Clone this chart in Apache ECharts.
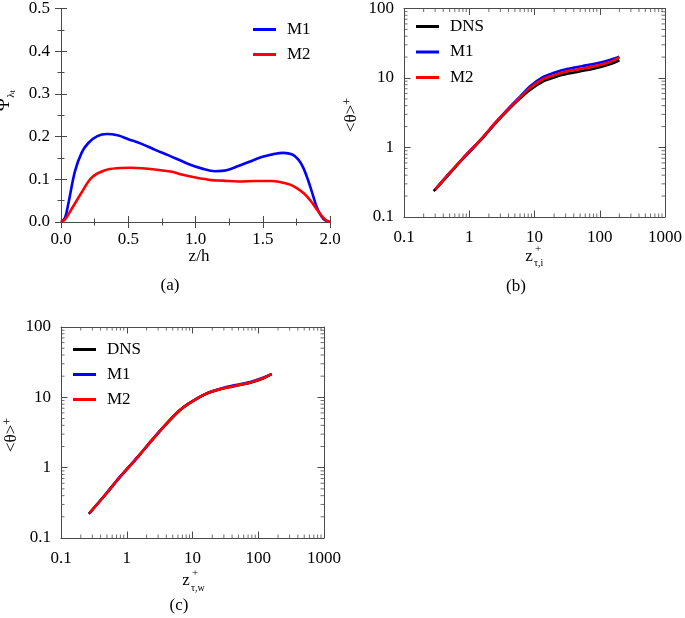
<!DOCTYPE html>
<html>
<head>
<meta charset="utf-8">
<script src="https://cdn.jsdelivr.net/npm/echarts@6/dist/echarts.min.js"></script>
<style>
html,body{margin:0;padding:0;background:#fff;}
#chart{width:685px;height:618px;}
</style>
</head>
<body>
<div id="chart"></div>
<script>
// ---------- Panel (a) data ----------
const aZ_M1 = [0, 0.03, 0.054, 0.104, 0.153, 0.203, 0.27, 0.34, 0.42, 0.5, 0.6, 0.7, 0.8, 0.947, 1.05, 1.145, 1.23, 1.318, 1.4, 1.492, 1.58, 1.653, 1.72, 1.765, 1.8, 1.839, 1.87, 1.901, 1.935, 1.963, 2.0];
const aM1 = [0, 0.01, 0.042, 0.119, 0.162, 0.185, 0.201, 0.206, 0.203, 0.194, 0.183, 0.169, 0.156, 0.136, 0.125, 0.119, 0.121, 0.131, 0.141, 0.152, 0.159, 0.162, 0.158, 0.146, 0.128, 0.096, 0.066, 0.035, 0.014, 0.004, 0];
const aZ_M2 = [0, 0.03, 0.08, 0.153, 0.228, 0.327, 0.42, 0.525, 0.6, 0.699, 0.8, 0.848, 0.897, 1.0, 1.12, 1.2, 1.318, 1.45, 1.566, 1.69, 1.75, 1.809, 1.86, 1.908, 1.95, 1.98, 2.0];
const aM2 = [0, 0.006, 0.031, 0.069, 0.104, 0.121, 0.126, 0.127, 0.126, 0.123, 0.119, 0.116, 0.111, 0.104, 0.098, 0.097, 0.095, 0.096, 0.096, 0.089, 0.08, 0.066, 0.048, 0.027, 0.01, 0.002, 0];

// ---------- Panel (b) data ----------
const bZ_DNS = [0.285, 0.5, 0.8, 1.5, 2.6, 4, 5.9, 8.4, 13.4, 20, 27, 40, 55, 80, 110, 150, 200];
const bDNS   = [0.235, 0.42, 0.69, 1.28, 2.3, 3.5, 5.0, 6.7, 8.9, 10.2, 11.1, 12.0, 12.7, 13.6, 14.6, 16.0, 18.0];
const bZ     = [0.3, 0.5, 0.8, 1.5, 2.6, 4, 5.9, 8.4, 13.4, 20, 27, 40, 55, 80, 110, 150, 200];
const bM1    = [0.248, 0.43, 0.7, 1.3, 2.35, 3.65, 5.3, 7.5, 10.3, 11.9, 13.0, 14.1, 14.9, 15.9, 17.0, 18.4, 20.2];
const bM2    = [0.248, 0.43, 0.7, 1.3, 2.35, 3.6, 5.2, 7.1, 9.6, 11.0, 12.0, 13.0, 13.7, 14.7, 15.8, 17.3, 19.8];

// ---------- Panel (c) data ----------
const cZ_DNS = [0.265, 0.5, 0.75, 1.5, 2.4, 4, 6.1, 8.5, 11, 15, 19.7, 28, 40, 57, 80, 115, 160];
const cDNS   = [0.22, 0.44, 0.70, 1.45, 2.45, 4.2, 6.3, 8.0, 9.3, 10.9, 12.0, 13.2, 14.2, 15.2, 16.4, 18.4, 21.4];
const cZ     = [0.27, 0.5, 0.75, 1.5, 2.4, 4, 6.1, 8.5, 11, 15, 19.7, 28, 40, 57, 80, 115, 160];
const cM1    = [0.225, 0.44, 0.70, 1.45, 2.45, 4.2, 6.3, 8.0, 9.3, 10.9, 12.2, 13.5, 14.6, 15.6, 16.8, 18.8, 21.6];
const cM2    = [0.225, 0.44, 0.70, 1.45, 2.45, 4.2, 6.3, 8.0, 9.3, 10.9, 12.1, 13.3, 14.3, 15.3, 16.5, 18.5, 21.5];

// ---------- Tick values ----------
const logMinorX = [0.2,0.3,0.4,0.5,0.6,0.7,0.8,0.9, 2,3,4,5,6,7,8,9, 20,30,40,50,60,70,80,90, 200,300,400,500,600,700,800,900];
const logMinorY = [0.2,0.3,0.4,0.5,0.6,0.7,0.8,0.9, 2,3,4,5,6,7,8,9, 20,30,40,50,60,70,80,90];
const logTickLabels = {'0.1':'0.1','1':'1','10':'10','100':'100','1000':'1000'};

const FONT = 'Liberation Serif';
const AX = '#4a4a4a';

function pairs(xs, ys){ return xs.map((x,i)=>[x, ys[i]]); }

const labelStyle = {color:'#000', fontFamily:FONT, fontSize:17};

function linAxis(gridIndex, pos, min, max, interval, showLabel, margin){
  return {
    type:'value', gridIndex, position:pos, min, max, interval,
    axisLine:{show:true, lineStyle:{color:AX, width:1}},
    axisTick:{show:true, inside:true, length:6, lineStyle:{color:AX}},
    minorTick:{show:true, splitNumber:2, length:3.5, lineStyle:{color:AX}},
    splitLine:{show:false},
    axisLabel: showLabel ? Object.assign({margin:margin, formatter:(v)=>v.toFixed(1)}, labelStyle) : {show:false}
  };
}
function logAxis(gridIndex, pos, min, max, showLabel, margin){
  return {
    type:'log', logBase:10, gridIndex, position:pos, min, max,
    axisLine:{show:true, lineStyle:{color:AX, width:1}},
    axisTick:{show:true, inside:true, length:6.5, lineStyle:{color:AX}},
    minorTick:{show:false},
    splitLine:{show:false},
    axisLabel: showLabel ? Object.assign({margin:margin, formatter:(v)=>{const k=String(Number(v.toPrecision(3))); return logTickLabels[k] || k;}}, labelStyle) : {show:false}
  };
}

// minor log ticks drawn as thin rect symbols placed through the axes' own scales
function minorTickSeries(axIdx, xr, yr){
  const L = 3.5;
  const data = [];
  logMinorX.forEach(v => {
    data.push({value:[v, yr[0]], symbolSize:[1, L], symbolOffset:[0, -L/2]});
    data.push({value:[v, yr[1]], symbolSize:[1, L], symbolOffset:[0, L/2]});
  });
  logMinorY.forEach(v => {
    data.push({value:[xr[0], v], symbolSize:[L, 1], symbolOffset:[L/2, 0]});
    data.push({value:[xr[1], v], symbolSize:[L, 1], symbolOffset:[-L/2, 0]});
  });
  return {
    type:'scatter', xAxisIndex:axIdx, yAxisIndex:axIdx, symbol:'rect', silent:true,
    clip:false, z:1, itemStyle:{color:AX}, data, animation:false
  };
}

function lineSeries(name, color, xi, yi, data, smooth, z){
  return {
    name, type:'line', xAxisIndex:xi, yAxisIndex:yi, data, smooth:smooth,
    symbol:'none', z:z, lineStyle:{color, width:2.6}, itemStyle:{color}, animation:false
  };
}

function legendAt(left, top, names, gap){
  return {
    left, top, orient:'vertical', icon:'rect', itemWidth:23, itemHeight:3, itemGap:gap, padding:0,
    data:names, selectedMode:false,
    textStyle:{color:'#000', fontFamily:FONT, fontSize:17, padding:[0,0,0,6]}
  };
}

const supRich = {
  m:{fontFamily:FONT, fontSize:17, lineHeight:20, verticalAlign:'bottom'},
  s:{fontFamily:FONT, fontSize:12, lineHeight:20, verticalAlign:'top', padding:[2,0,0,0]}
};

const option = {
  animation:false,
  backgroundColor:'#fff',
  grid:[
    {left:61, top:5, width:269, height:217},
    {left:404, top:7, width:262, height:210},
    {left:61, top:327, width:263, height:211}
  ],
  xAxis:[
    linAxis(0,'bottom',0,2,0.5,true,9),
    linAxis(0,'top',0,2,0.5,false,0),
    logAxis(1,'bottom',0.1,1000,true,12),
    logAxis(1,'top',0.1,1000,false,0),
    logAxis(2,'bottom',0.1,1000,true,12),
    logAxis(2,'top',0.1,1000,false,0)
  ],
  yAxis:[
    linAxis(0,'left',0,0.5,0.1,true,11),
    linAxis(0,'right',0,0.5,0.1,false,0),
    logAxis(1,'left',0.1,100,true,10),
    logAxis(1,'right',0.1,100,false,0),
    logAxis(2,'left',0.1,100,true,10),
    logAxis(2,'right',0.1,100,false,0)
  ],
  legend:[
    legendAt(253, 21, ['M1','M2'], 8),
    legendAt(416, 18, ['DNS','M1','M2'], 8.5),
    legendAt(73, 341, ['DNS','M1','M2'], 8)
  ],
  series:[
    lineSeries('M1','#0000ff',0,0,pairs(aZ_M1,aM1),0.35,3),
    lineSeries('M2','#ff0000',0,0,pairs(aZ_M2,aM2),0.35,4),

    lineSeries('DNS','#000000',2,2,pairs(bZ_DNS,bDNS),0.3,3),
    lineSeries('M1','#0000ff',2,2,pairs(bZ,bM1),0.3,4),
    lineSeries('M2','#ff0000',2,2,pairs(bZ,bM2),0.3,5),

    lineSeries('DNS','#000000',4,4,pairs(cZ_DNS,cDNS),0.3,3),
    lineSeries('M1','#0000ff',4,4,pairs(cZ,cM1),0.3,4),
    lineSeries('M2','#ff0000',4,4,pairs(cZ,cM2),0.3,5),

    minorTickSeries(2,[0.1,1000],[0.1,100]),
    minorTickSeries(4,[0.1,1000],[0.1,100])
  ],
  graphic:[
    // panel a labels
    {type:'text', x:199, y:257, style:{text:'z/h', font:'17px "Liberation Serif"', fill:'#000', align:'center', verticalAlign:'middle'}},
    {type:'text', x:170, y:286, style:{text:'(a)', font:'17px "Liberation Serif"', fill:'#000', align:'center', verticalAlign:'middle'}},
    {type:'text', x:6, y:101, rotation:Math.PI/2, style:{
      text:'{p|Ψ}{l|λ}{t|t}', align:'center', verticalAlign:'middle', fill:'#000',
      rich:{
        p:{fontFamily:FONT, fontSize:19, lineHeight:22, verticalAlign:'top'},
        l:{fontFamily:FONT, fontSize:11, lineHeight:22, verticalAlign:'bottom'},
        t:{fontFamily:FONT, fontSize:8, lineHeight:22, verticalAlign:'bottom'}
      }}},
    // panel b labels
    {type:'text', x:350, y:115, rotation:Math.PI/2, style:{
      text:'{m|<θ>}{s|+}', align:'center', verticalAlign:'middle', fill:'#000', rich:supRich}},
    {type:'text', x:529, y:257, style:{text:'z', font:'17px "Liberation Serif"', fill:'#000', align:'center', verticalAlign:'middle'}},
    {type:'text', x:535, y:249, style:{text:'+', font:'11px "Liberation Serif"', fill:'#000', align:'left', verticalAlign:'middle'}},
    {type:'text', x:534, y:263, style:{text:'τ,i', font:'10px "Liberation Serif"', fill:'#000', align:'left', verticalAlign:'middle'}},
    {type:'text', x:516, y:287, style:{text:'(b)', font:'17px "Liberation Serif"', fill:'#000', align:'center', verticalAlign:'middle'}},
    // panel c labels
    {type:'text', x:10, y:435, rotation:Math.PI/2, style:{
      text:'{m|<θ>}{s|+}', align:'center', verticalAlign:'middle', fill:'#000', rich:supRich}},
    {type:'text', x:186, y:581, style:{text:'z', font:'17px "Liberation Serif"', fill:'#000', align:'center', verticalAlign:'middle'}},
    {type:'text', x:192, y:573, style:{text:'+', font:'11px "Liberation Serif"', fill:'#000', align:'left', verticalAlign:'middle'}},
    {type:'text', x:191, y:588, style:{text:'τ,w', font:'10px "Liberation Serif"', fill:'#000', align:'left', verticalAlign:'middle'}},
    {type:'text', x:179, y:606, style:{text:'(c)', font:'17px "Liberation Serif"', fill:'#000', align:'center', verticalAlign:'middle'}}
  ]
};

const chart = echarts.init(document.getElementById('chart'), null, {renderer:'canvas'});
chart.setOption(option);
</script>
</body>
</html>
